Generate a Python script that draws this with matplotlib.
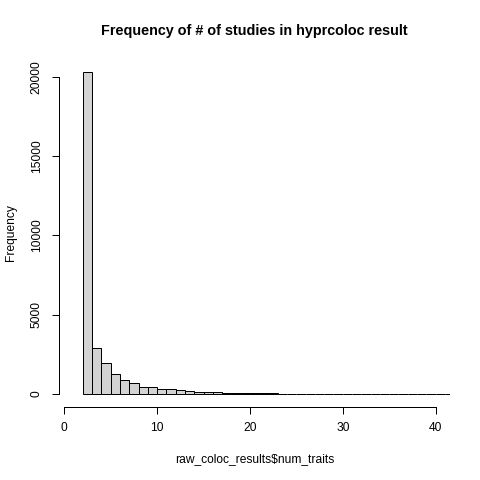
import numpy as np
import matplotlib
matplotlib.use("Agg")
import matplotlib.pyplot as plt

# histogram of num_traits, bins of width 1 starting at 2
bin_left = np.arange(2, 43)
counts = [20300, 2900, 1950, 1260, 880, 700, 460, 420, 320, 295,
          230, 190, 130, 130, 110, 85, 75, 65, 60, 45,
          40, 35, 35, 25, 25, 15, 15, 10, 10, 12,
          12, 8, 8, 5, 5, 3, 3, 2, 2, 1, 1]
xticks = [0, 10, 20, 30, 40]
yticks = [0, 5000, 10000, 15000, 20000]

plt.rcParams['font.family'] = ['Liberation Sans', 'DejaVu Sans']

fig = plt.figure(figsize=(4.8, 4.8), dpi=100)
# R default plot region for a 480x480 png
ax = fig.add_axes([59/480, 73/480, 391/480, 348/480])

ax.bar(bin_left, counts, width=1, align='edge', color='#d3d3d3',
       edgecolor='black', linewidth=0.72)

ax.set_xlim(-0.57, 41.55)
ymax = max(counts)
ax.set_ylim(-0.04*ymax, 1.04*ymax)

for s in ['top', 'right']:
    ax.spines[s].set_visible(False)
for s in ['left', 'bottom']:
    ax.spines[s].set_linewidth(0.72)
ax.spines['bottom'].set_bounds(xticks[0], xticks[-1])
ax.spines['left'].set_bounds(yticks[0], yticks[-1])

ax.set_xticks(xticks)
ax.set_yticks(yticks)
ax.tick_params(direction='out', length=5.2, width=0.72, labelsize=8.64,
               colors='black')
ax.tick_params(axis='x', pad=5.5)
ax.tick_params(axis='y', pad=6.5)
for lab in ax.get_yticklabels():
    lab.set_rotation(90)
    lab.set_va('center')
    lab.set_ha('right')

ax.set_xlabel('raw_coloc_results$num_traits', fontsize=8.64, labelpad=14)
ax.set_ylabel('Frequency', fontsize=8.64, labelpad=10)
ax.set_title('Frequency of # of studies in hyprcoloc result',
             fontsize=10.4, fontweight='bold', pad=17.5)

fig.savefig('out.png', dpi=100)
